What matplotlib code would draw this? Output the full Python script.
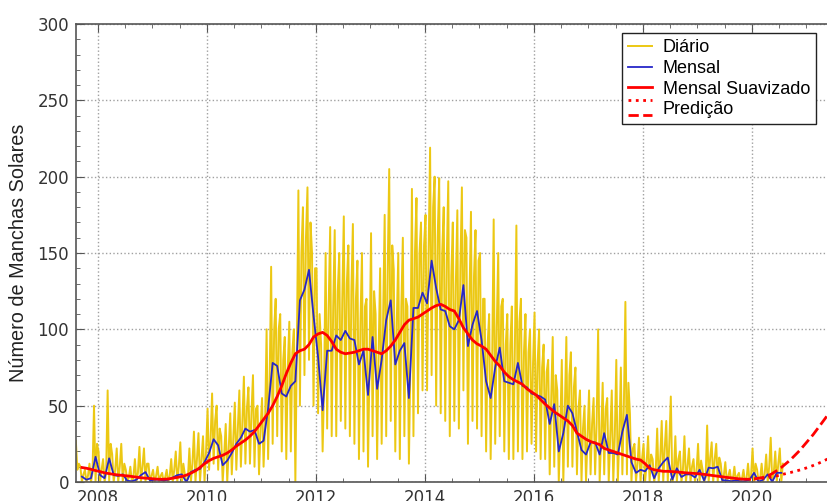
import numpy as np
import matplotlib.pyplot as plt
from matplotlib.lines import Line2D
from matplotlib.legend_handler import HandlerBase
from matplotlib.ticker import MultipleLocator

# monthly sunspot number, Sep 2007 .. Jul 2020
mensal = [3.5, 1.5, 2.5, 16.5,
          4.5, 2.5, 15.5, 4.5, 4.0, 5.0, 0.8, 0.5, 1.5, 4.5, 6.5, 1.0,
          1.5, 1.5, 1.0, 1.5, 2.9, 4.5, 5.0, 0.0, 6.5, 8.0, 8.5, 13.0,
          19, 28, 24, 11, 14, 19, 25, 29, 35, 33, 34, 25,
          27, 48, 78, 76, 58, 56, 63, 66, 119, 126, 139, 109,
          82, 47, 86, 86, 96, 93, 99, 94, 93, 77, 86, 57,
          95, 61, 80, 106, 119, 77, 86, 91, 55, 114, 114, 124,
          117, 145, 127, 113, 112, 102, 100, 106, 129, 89, 103, 112,
          93, 66, 55, 75, 88, 66, 65, 64, 78, 63, 62, 58,
          57, 56, 54, 38, 51, 20, 32, 50, 45, 33, 21, 18,
          26, 26, 18, 32, 19, 19, 18, 33, 44, 13, 6, 8,
          7, 11, 2.5, 9, 13, 16, 1.6, 9, 3.3, 5, 5, 3,
          8, 1, 9.4, 9, 10, 1.2, 1, 0.5, 1.1, 0.4, 0.5, 1.5,
          6, 0.2, 1.5, 5, 0.2, 6, 6]

# 13-month smoothed, Sep 2007 .. Dec 2019
suavizado = [9.5, 9.0, 8.3, 7.5,
             6.8, 6.0, 5.5, 5.0, 4.6, 4.3, 4.0, 3.6, 3.2, 2.8, 2.5, 2.3,
             2.0, 1.8, 1.8, 2.0, 2.5, 3.0, 3.6, 4.5, 5.8, 7.3, 9.5, 12.0,
             14, 15.5, 16.5, 17.5, 19, 21, 23.5, 25.5, 27.5, 30, 33, 37,
             41, 45, 50, 56, 63, 71, 78, 84, 86, 87, 90, 95,
             97, 98, 96, 92, 87, 85, 84, 84.5, 85, 86, 87, 87,
             86, 85, 84, 86, 89, 93, 98, 103, 106, 107, 108, 110,
             112, 114, 115.5, 116.4, 115, 113, 112, 107, 101, 97, 93, 90.5,
             89, 87, 83, 79, 76, 72, 69, 67, 65.5, 64, 61, 59,
             57, 54, 51, 48.5, 46, 44, 42, 40, 37, 32, 30, 28,
             26.5, 25.5, 24.5, 22, 21, 20, 19, 18, 17, 16, 15, 14.4,
             12, 9, 8, 7.5, 7, 7, 6.8, 6.6, 6.3, 6, 5.8, 5.6,
             5.3, 5.0, 4.6, 4.2, 3.8, 3.4, 3.0, 2.7, 2.3, 2.0, 1.8, 1.8]

# predictions, Jan 2020 .. Aug 2021
pred_alta = [2, 2.5, 3, 4, 5.5, 7.5, 9.5, 12, 14.5, 17.5, 20.5, 24,
             27.5, 31, 35, 39, 43, 47, 51, 55]
pred_baixa = [2, 2.2, 2.5, 3, 3.5, 4, 4.8, 5.5, 6.2, 7, 7.8, 8.7,
              9.7, 10.8, 12, 13.3, 14.8, 16.3, 18, 19.7]

# daily values per month (high / low / typical), Aug 2007 .. Jul 2020
diario_max = [27, 10, 8, 12, 50,
              20, 15, 60, 18, 22, 25, 8, 10, 15, 23, 22, 12,
              8, 10, 6, 8, 15, 20, 26, 5, 22, 33, 32, 30,
              48, 58, 50, 30, 38, 45, 52, 60, 69, 62, 70, 50,
              55, 100, 141, 120, 110, 95, 105, 100, 191, 180, 193, 150,
              140, 90, 150, 167, 165, 150, 174, 155, 169, 145, 150, 120,
              163, 110, 140, 175, 205, 139, 150, 160, 115, 192, 186, 170,
              175, 219, 200, 199, 180, 197, 170, 178, 193, 160, 177, 165,
              150, 120, 110, 172, 150, 120, 110, 115, 168, 120, 110, 100,
              111, 100, 90, 80, 95, 60, 80, 95, 85, 75, 60, 50,
              60, 55, 100, 65, 55, 60, 80, 75, 118, 45, 25, 29,
              25, 30, 15, 35, 40, 40, 56, 30, 20, 30, 22, 15,
              25, 8, 37, 26, 25, 12, 13, 8, 10, 6, 8, 12,
              22, 8, 12, 18, 29, 20, 22]
diario_min = [8, 0, 0, 0, 0,
              0, 0, 0, 0, 0, 0, 0, 0, 0, 0, 0, 0,
              0, 0, 0, 0, 0, 0, 0, 0, 0, 0, 0, 0,
              8, 12, 8, 0, 0, 5, 8, 10, 12, 12, 10, 5,
              10, 15, 25, 30, 20, 15, 20, 0, 50, 70, 80, 50,
              45, 20, 35, 30, 30, 40, 35, 30, 25, 15, 20, 10,
              30, 15, 25, 30, 40, 20, 15, 30, 12, 30, 45, 60,
              60, 70, 50, 45, 40, 30, 40, 35, 60, 25, 40, 35,
              30, 20, 15, 25, 30, 20, 15, 15, 20, 15, 20, 25,
              20, 15, 15, 5, 10, 0, 0, 10, 10, 5, 0, 0,
              5, 5, 0, 5, 0, 0, 0, 5, 5, 0, 0, 0,
              0, 0, 0, 0, 0, 0, 0, 0, 0, 0, 0, 0,
              0, 0, 0, 0, 0, 0, 0, 0, 0, 0, 0, 0,
              0, 0, 0, 0, 0, 0, 0]
diario_tipico = [12, 5, 4, 6, 25,
                 8, 6, 25, 8, 10, 12, 3, 3, 6, 10, 12, 4,
                 4, 4, 3, 4, 8, 10, 12, 2, 12, 15, 15, 20,
                 28, 40, 35, 18, 22, 28, 35, 40, 48, 45, 48, 35,
                 38, 65, 100, 100, 80, 75, 85, 90, 150, 160, 170, 140,
                 110, 65, 115, 115, 125, 120, 130, 125, 120, 105, 115, 80,
                 125, 85, 110, 140, 155, 105, 115, 120, 80, 150, 150, 155,
                 150, 180, 160, 150, 145, 135, 130, 140, 165, 120, 135, 145,
                 120, 90, 80, 100, 115, 90, 90, 88, 105, 85, 85, 78,
                 78, 75, 72, 55, 70, 35, 48, 70, 62, 48, 35, 30,
                 38, 38, 30, 48, 30, 30, 30, 50, 65, 22, 12, 15,
                 12, 18, 6, 15, 22, 25, 5, 15, 8, 10, 10, 7,
                 14, 3, 16, 15, 16, 4, 4, 2, 4, 2, 2, 4,
                 12, 2, 5, 10, 6, 12, 12]

t_mensal = 2007 + (8 + np.arange(len(mensal)) + 0.5) / 12
t_suav = 2007 + (8 + np.arange(len(suavizado)) + 0.5) / 12
t_pred = 2020 + (np.arange(len(pred_alta)) + 0.5) / 12
m0 = 2007 + (7 + np.arange(len(diario_max))) / 12
t_diario = np.column_stack([m0 + 1 / 72, m0 + 3 / 72, m0 + 5 / 72]).ravel()
v_diario = np.column_stack([diario_max, diario_min, diario_tipico]).ravel()

fig = plt.figure(figsize=(8.28, 5.01), dpi=100)
ax = fig.add_axes([76 / 828, 19 / 501, 770 / 828, 458 / 501])

l1, = ax.plot(t_diario, v_diario, color='#ecc813', lw=1.4, label='Diário')
l2, = ax.plot(t_mensal, mensal, color='#2626c8', lw=1.3, label='Mensal')
l3, = ax.plot(t_suav, suavizado, color='#ff0000', lw=2, label='Mensal Suavizado')
l4, = ax.plot(t_pred, pred_baixa, color='#ff0000', lw=2, ls=':')
l5, = ax.plot(t_pred, pred_alta, color='#ff0000', lw=2, ls='--')

ax.set_xlim(2007.6, 2007.6 + 770 / 54.5)
ax.set_ylim(0, 300)
ax.xaxis.set_major_locator(MultipleLocator(2))
ax.xaxis.set_minor_locator(MultipleLocator(0.5))
ax.yaxis.set_major_locator(MultipleLocator(50))
ax.yaxis.set_minor_locator(MultipleLocator(10))
ax.tick_params(which='both', direction='in', top=True, right=True, color='#555555')
ax.tick_params(which='major', length=6, labelsize=12, labelcolor='#333333', pad=5)
ax.tick_params(which='minor', length=3)
ax.grid(True, which='major', ls=':', color='#a0a0a0', lw=1)
for s in ax.spines.values():
    s.set_color('#555555')
    s.set_linewidth(1.2)

ax.set_ylabel('Número de Manchas Solares', family='Liberation Sans', fontsize=14.3,
              color='#222222', labelpad=7)


class PredHandler(HandlerBase):
    def create_artists(self, legend, orig_handle, xdescent, ydescent,
                       width, height, fontsize, trans):
        mid = height / 2 - ydescent
        out = []
        for h, dy in zip(orig_handle, (0.6 * height, -0.6 * height)):
            ln = Line2D([-xdescent, -xdescent + width], [mid + dy, mid + dy],
                        color=h.get_color(), ls=h.get_linestyle(),
                        lw=h.get_linewidth(), transform=trans)
            out.append(ln)
        return out


leg = ax.legend([l1, l2, l3, (l4, l5)], ['Diário', 'Mensal', 'Mensal Suavizado', 'Predição'],
                handler_map={tuple: PredHandler()},
                loc='upper left', bbox_to_anchor=(622 / 828, 1 - 33 / 501),
                bbox_transform=fig.transFigure, borderaxespad=0,
                prop={'family': 'Liberation Sans', 'size': 13},
                handlelength=1.3, handletextpad=0.6, labelspacing=0.2,
                borderpad=0.35, fancybox=False, framealpha=1, edgecolor='#222222')
leg.get_frame().set_linewidth(1.0)

fig.savefig('out.png', dpi=100)
